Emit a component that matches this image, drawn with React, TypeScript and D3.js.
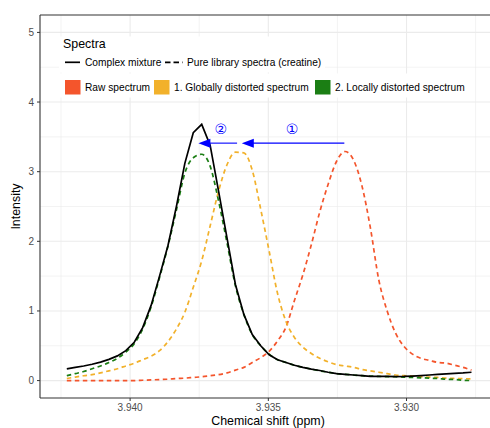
import React from "react";
import * as d3 from "d3";

const ppm = [
  3.94229, 3.941985, 3.94168, 3.941375, 3.94107, 3.940765, 3.94046, 3.940155, 3.93985, 3.939545,
  3.93924, 3.938935, 3.93863, 3.938325, 3.93802, 3.937715, 3.93741, 3.937105, 3.9368, 3.936495,
  3.93619, 3.935885, 3.93558, 3.935275, 3.93497, 3.934665, 3.93436, 3.934055, 3.93375, 3.933445,
  3.93314, 3.932835, 3.93253, 3.932225, 3.93192, 3.931615, 3.93131, 3.931005, 3.9307, 3.930395,
  3.93009, 3.929785, 3.92948, 3.929175, 3.92887, 3.928565, 3.92826, 3.927955, 3.92765,
];

const complexMixture = [
  0.168, 0.19, 0.21, 0.235, 0.265, 0.305, 0.355, 0.43, 0.55, 0.76,
  1.08, 1.5, 1.94, 2.5, 3.12, 3.56, 3.68, 3.38, 2.72, 2.05,
  1.38, 0.95, 0.66, 0.5, 0.37, 0.3, 0.26, 0.22, 0.19, 0.165,
  0.145, 0.12, 0.1, 0.09, 0.08, 0.07, 0.06, 0.06, 0.06, 0.058,
  0.06, 0.065, 0.072, 0.08, 0.088, 0.096, 0.104, 0.11, 0.12,
];

const rawSpectrum = [
  0, 0, 0, 0, 0, 0, 0, 0, 0, 0.005,
  0.01, 0.015, 0.02, 0.03, 0.035, 0.045, 0.055, 0.07, 0.085, 0.11,
  0.15, 0.19, 0.26, 0.33, 0.42, 0.57, 0.77, 1.15, 1.52, 1.95,
  2.42, 2.82, 3.15, 3.29, 3.17, 2.8, 2.2, 1.45, 1.0, 0.68,
  0.49, 0.38, 0.32, 0.29, 0.26, 0.25, 0.22, 0.19, 0.15,
];

const globallyDistorted = [
  0.03, 0.05, 0.07, 0.085, 0.11, 0.14, 0.17, 0.21, 0.25, 0.3,
  0.35, 0.43, 0.56, 0.74, 0.98, 1.34, 1.72, 2.22, 2.72, 3.1,
  3.28, 3.27, 3.02, 2.46, 1.86, 1.25, 0.85, 0.62, 0.48, 0.39,
  0.32, 0.27, 0.23, 0.21, 0.19, 0.16, 0.14, 0.12, 0.1, 0.08,
  0.07, 0.065, 0.055, 0.05, 0.045, 0.035, 0.03, 0.027, 0.025,
];

const locallyDistorted = [
  0.07, 0.1, 0.13, 0.17, 0.21, 0.26, 0.32, 0.41, 0.53, 0.74,
  1.06, 1.48, 1.93, 2.45, 2.98, 3.2, 3.25, 3.08, 2.58, 1.98,
  1.36, 0.95, 0.66, 0.5, 0.38, 0.3, 0.26, 0.22, 0.19, 0.165,
  0.14, 0.12, 0.1, 0.09, 0.08, 0.07, 0.065, 0.06, 0.057, 0.055,
  0.05, 0.045, 0.04, 0.035, 0.03, 0.02, 0.015, 0.005, 0.0,
];

const xMajorTicks = [3.94, 3.935, 3.93];
const xMinorTicks = [3.9425, 3.9375, 3.9325, 3.9275];
const yMajorTicks = [0, 1, 2, 3, 4, 5];
const yMinorTicks = [0.5, 1.5, 2.5, 3.5, 4.5];

const arrowShifts = [
  { label: "\u2460", from: 3.93225, to: 3.93596, y: 3.41 },
  { label: "\u2461", from: 3.93613, to: 3.93753, y: 3.41 },
];

const fillLegend = ["Raw spectrum", "1. Globally distorted spectrum", "2. Locally distorted spectrum"];
const lineLegend = ["Complex mixture", "Pure library spectra (creatine)"];

const RED = "#F4552C";
const YELLOW = "#F2B12B";
const GREEN = "#1B7E14";
const BLUE = "#0000FF";
const FONT = "'Liberation Sans', Arial, Helvetica, sans-serif";

export default function App() {
  const W = 490;
  const H = 428;
  const left = 40;
  const top = 15;
  const bottom = 398;
  const right = 490;

  const x = d3.scaleLinear().domain([3.94326, 3.92698]).range([left, right]);
  const y = d3.scaleLinear().domain([-0.25, 5.25]).range([bottom, top]);

  const lineLinear = d3
    .line<number>()
    .x((_, i) => x(ppm[i]))
    .y((d) => y(d));
  const lineSmooth = d3
    .line<number>()
    .x((_, i) => x(ppm[i]))
    .y((d) => y(d))
    .curve(d3.curveMonotoneX);

  const dashed = [
    { data: rawSpectrum, color: RED },
    { data: globallyDistorted, color: YELLOW },
    { data: locallyDistorted, color: GREEN },
  ];

  const grid = "#ebebeb";
  const tickColor = "#4d4d4d";
  const legendFont = 10.2;

  const fillX = [65, 154, 315];

  return (
    <div style={{ position: "absolute", left: 0, top: 0 }}>
      <svg width={W} height={H} style={{ display: "block", fontFamily: FONT }}>
        <rect x={0} y={0} width={W} height={H} fill="#fff" />
        <defs>
          <clipPath id="panel">
            <rect x={left} y={top} width={right - left + 20} height={bottom - top} />
          </clipPath>
        </defs>
        {yMinorTicks.map((t) => (
          <line key={"ym" + t} x1={left} x2={right + 20} y1={y(t)} y2={y(t)} stroke={grid} strokeWidth={0.6} />
        ))}
        {xMinorTicks.map((t) => (
          <line key={"xm" + t} x1={x(t)} x2={x(t)} y1={top} y2={bottom} stroke={grid} strokeWidth={0.6} />
        ))}
        {yMajorTicks.map((t) => (
          <line key={"yM" + t} x1={left} x2={right + 20} y1={y(t)} y2={y(t)} stroke={grid} strokeWidth={1.1} />
        ))}
        {xMajorTicks.map((t) => (
          <line key={"xM" + t} x1={x(t)} x2={x(t)} y1={top} y2={bottom} stroke={grid} strokeWidth={1.1} />
        ))}

        <rect x={59} y={36.5} width={266} height={36} fill="#fff" />
        <rect x={59} y={73.5} width={411} height={24} fill="#fff" />

        <g clipPath="url(#panel)">
          {dashed.map((s, i) => (
            <path
              key={i}
              d={lineSmooth(s.data) || ""}
              fill="none"
              stroke={s.color}
              strokeWidth={1.7}
              strokeDasharray="4.5,3.5"
            />
          ))}
          <path d={lineLinear(complexMixture) || ""} fill="none" stroke="#000" strokeWidth={1.7} />
        </g>

        {arrowShifts.map((a, i) => {
          const x1 = x(a.from);
          const x2 = x(a.to);
          const yy = y(a.y);
          const hl = 12;
          const hw = 4.5;
          return (
            <g key={i}>
              <line x1={x1} x2={x2 + hl - 1} y1={yy} y2={yy} stroke={BLUE} strokeWidth={1.1} />
              <path d={`M${x2},${yy} L${x2 + hl},${yy - hw} L${x2 + hl},${yy + hw} Z`} fill={BLUE} />
              <text
                x={(x1 + x2) / 2 + (i === 0 ? -1 : 3)}
                y={yy - 9}
                fill={BLUE}
                fontSize={14}
                textAnchor="middle"
                fontFamily="'DejaVu Sans', sans-serif"
              >
                {a.label}
              </text>
            </g>
          );
        })}

        <line x1={left} x2={right + 20} y1={top} y2={top} stroke="#333" strokeWidth={1.1} />
        <line x1={left} x2={right + 20} y1={bottom} y2={bottom} stroke="#333" strokeWidth={1.1} />
        <line x1={left} x2={left} y1={top} y2={bottom} stroke="#333" strokeWidth={1.1} />

        {yMajorTicks.map((t) => (
          <g key={"yt" + t}>
            <line x1={left - 3} x2={left} y1={y(t)} y2={y(t)} stroke="#333" strokeWidth={1} />
            <text x={left - 6} y={y(t) + 3.5} fontSize={10} fill={tickColor} textAnchor="end">
              {t}
            </text>
          </g>
        ))}
        {xMajorTicks.map((t) => (
          <g key={"xt" + t}>
            <line x1={x(t)} x2={x(t)} y1={bottom} y2={bottom + 3} stroke="#333" strokeWidth={1} />
            <text x={x(t)} y={411} fontSize={10} fill={tickColor} textAnchor="middle">
              {t.toFixed(3)}
            </text>
          </g>
        ))}

        <text x={268} y={424.5} fontSize={12.4} textAnchor="middle" fill="#000">
          Chemical shift (ppm)
        </text>
        <text
          transform={`translate(19.5,${(top + bottom) / 2}) rotate(-90)`}
          fontSize={12.4}
          textAnchor="middle"
          fill="#000"
        >
          Intensity
        </text>

        <text x={63} y={48} fontSize={12.4} fill="#000">
          Spectra
        </text>
        <line x1={65} x2={80} y1={62.3} y2={62.3} stroke="#000" strokeWidth={1.7} />
        <text x={85} y={65.8} fontSize={legendFont} fill="#000">
          {lineLegend[0]}
        </text>
        <line x1={165} x2={182.5} y1={62.3} y2={62.3} stroke="#000" strokeWidth={1.7} strokeDasharray="5.5,3" />
        <text x={187} y={65.8} fontSize={legendFont} fill="#000">
          {lineLegend[1]}
        </text>

        {fillLegend.map((lab, i) => (
          <g key={lab}>
            <rect x={fillX[i]} y={80} width={15.5} height={14.5} fill={[RED, YELLOW, GREEN][i]} />
            <text x={fillX[i] + 20} y={90.8} fontSize={legendFont} fill="#000">
              {lab}
            </text>
          </g>
        ))}
      </svg>
    </div>
  );
}
